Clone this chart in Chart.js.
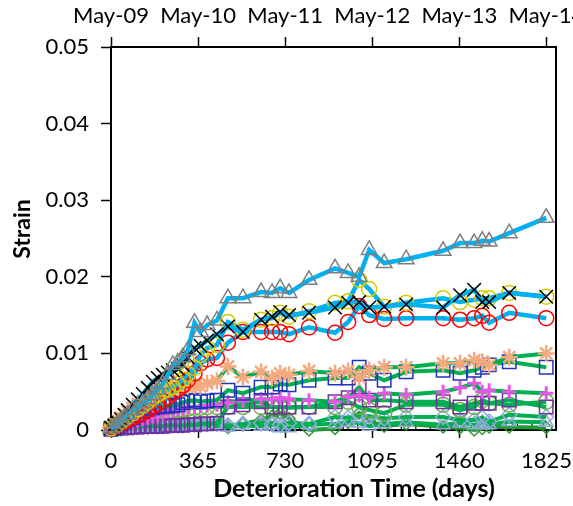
<!DOCTYPE html>
<html>
<head>
<meta charset="utf-8">
<script src="https://cdn.jsdelivr.net/npm/chart.js@4"></script>
<style>
  body { margin: 0; background: #fff; }
  #wrap { width: 573px; height: 506px; }
</style>
</head>
<body>
<div id="wrap"><canvas id="strainChart" width="573" height="506"></canvas></div>
<script>
// sampling times (days since May-09)
const days = [0, 14, 28, 42, 56, 70, 91, 112, 133, 154, 175, 196, 217, 238, 259, 280, 301, 322, 350, 375, 403, 444,
  490, 553, 629, 675, 709, 746, 830, 939, 994, 1040, 1082, 1145, 1237, 1392, 1463, 1522, 1556, 1585, 1669, 1824];

const yearTicks = [0, 365, 730, 1095, 1460, 1825];
const dateLabels = ['May-09', 'May-10', 'May-11', 'May-12', 'May-13', 'May-14'];
const strainTicks = [0, 0.01, 0.02, 0.03, 0.04, 0.05];

// strain series
const grayTri = [0.0002,0.0004,0.0008,0.0012,0.0016,0.0020,0.0026,0.0030,0.0035,0.0040,0.0046,0.0053,0.0060,0.0072,0.0085,0.0088,0.0095,0.0104,0.0140,0.0128,0.0137,0.0143,
  0.0172,0.0172,0.0180,0.0179,0.0185,0.0179,0.0196,0.0211,0.0205,0.0200,0.0235,0.0218,0.0223,0.0234,0.0244,0.0244,0.0247,0.0246,0.0257,0.0277];
const blackX = [0.0003,0.0006,0.0010,0.0014,0.0020,0.0026,0.0033,0.0040,0.0047,0.0055,0.0063,0.0068,0.0072,0.0075,0.0078,0.0080,0.0085,0.0095,0.0107,0.0110,0.0117,0.0125,
  0.0135,0.0128,0.0144,0.0148,0.0154,0.0150,0.0153,0.0160,0.0166,0.0167,0.0160,0.0161,0.0164,0.0160,0.0176,0.0183,0.0167,0.0167,0.0179,0.0174];
const yellowCirc = [0.0002,0.0005,0.0008,0.0011,0.0014,0.0018,0.0022,0.0027,0.0032,0.0037,0.0042,0.0046,0.0050,0.0053,0.0056,0.0060,0.0066,0.0073,0.0081,0.0098,0.0107,0.0111,
  0.0141,0.0131,0.0144,0.0146,0.0153,0.0148,0.0155,0.0166,0.0168,0.0196,0.0184,0.0161,0.0166,0.0172,0.0167,0.0170,0.0172,0.0172,0.0179,0.0174];
const redCirc = [0.0002,0.0003,0.0005,0.0008,0.0010,0.0013,0.0016,0.0019,0.0022,0.0026,0.0030,0.0034,0.0038,0.0043,0.0048,0.0053,0.0058,0.0065,0.0074,0.0087,0.0092,0.0094,
  0.0114,0.0128,0.0128,0.0128,0.0128,0.0125,0.0134,0.0127,0.0141,0.0162,0.0150,0.0145,0.0146,0.0146,0.0144,0.0146,0.0149,0.0140,0.0153,0.0146];
const orangeAst = [0.0004,0.0008,0.0012,0.0016,0.0020,0.0024,0.0029,0.0034,0.0038,0.0042,0.0046,0.0049,0.0051,0.0053,0.0054,0.0055,0.0056,0.0057,0.0058,0.0057,0.0061,0.0064,
  0.0083,0.0069,0.0076,0.0068,0.0074,0.0072,0.0077,0.0074,0.0077,0.0069,0.0078,0.0082,0.0082,0.0087,0.0087,0.0091,0.0089,0.0085,0.0095,0.0100];
const blueSq = [0.0001,0.0003,0.0005,0.0008,0.0010,0.0013,0.0016,0.0020,0.0024,0.0027,0.0029,0.0030,0.0031,0.0031,0.0032,0.0033,0.0036,0.0038,0.0039,0.0037,0.0038,0.0039,
  0.0052,0.0048,0.0056,0.0056,0.0060,0.0059,0.0065,0.0068,0.0068,0.0082,0.0074,0.0065,0.0076,0.0078,0.0074,0.0078,0.0082,0.0085,0.0089,0.0082];
const magentaPlus = [0.0001,0.0002,0.0003,0.0005,0.0006,0.0008,0.0010,0.0012,0.0014,0.0016,0.0018,0.0020,0.0022,0.0024,0.0025,0.0027,0.0028,0.0029,0.0030,0.0031,0.0032,0.0033,
  0.0036,0.0038,0.0040,0.0040,0.0042,0.0040,0.0039,0.0037,0.0043,0.0045,0.0042,0.0048,0.0046,0.0050,0.0055,0.0061,0.0050,0.0052,0.0050,0.0048];
const purpleSq = [0.0002,0.0002,0.0003,0.0003,0.0003,0.0004,0.0004,0.0004,0.0005,0.0005,0.0005,0.0005,0.0005,0.0006,0.0006,0.0006,0.0006,0.0007,0.0007,0.0008,0.0008,0.0009,
  0.0030,0.0033,0.0037,0.0030,0.0030,0.0030,0.0030,0.0037,0.0042,0.0056,0.0039,0.0039,0.0037,0.0037,0.0030,0.0035,0.0035,0.0035,0.0039,0.0030];
const oliveCirc = [0.0003,0.0005,0.0006,0.0007,0.0008,0.0009,0.0010,0.0012,0.0014,0.0016,0.0018,0.0020,0.0022,0.0023,0.0025,0.0026,0.0027,0.0028,0.0029,0.0029,0.0030,0.0030,
  0.0030,0.0030,0.0030,0.0030,0.0030,0.0029,0.0030,0.0030,0.0037,0.0030,0.0026,0.0022,0.0033,0.0033,0.0026,0.0030,0.0039,0.0035,0.0033,0.0037];
const paleDia = [0.0001,0.0001,0.0002,0.0002,0.0003,0.0003,0.0003,0.0004,0.0004,0.0004,0.0005,0.0005,0.0005,0.0006,0.0006,0.0006,0.0006,0.0007,0.0007,0.0007,0.0008,0.0008,
  0.0006,0.0008,0.0009,0.0008,0.0007,0.0009,0.0008,0.0017,0.0016,0.0019,0.0018,0.0015,0.0017,0.0017,0.0013,0.0013,0.0016,0.0011,0.0020,0.0017];
const paleTri = [0.0000,0.0001,0.0001,0.0001,0.0002,0.0002,0.0002,0.0002,0.0003,0.0003,0.0003,0.0003,0.0003,0.0004,0.0004,0.0004,0.0004,0.0004,0.0004,0.0005,0.0005,0.0005,
  0.0004,0.0006,0.0005,0.0007,0.0003,0.0003,0.0007,0.0008,0.0010,0.0009,0.0005,0.0008,0.0010,0.0007,0.0009,0.0007,0.0009,0.0007,0.0011,0.0010];
const greenDia = [0.0001,0.0002,0.0002,0.0003,0.0003,0.0004,0.0004,0.0005,0.0005,0.0006,0.0006,0.0007,0.0007,0.0008,0.0008,0.0009,0.0009,0.0010,0.0010,0.0011,0.0011,0.0011,
  0.0003,0.0008,0.0013,0.0018,0.0022,0.0015,0.0000,0.0002,0.0010,0.0022,0.0012,0.0005,0.0008,0.0004,0.0003,0.0000,0.0002,0.0004,0.0004,0.0003];

const xMax = 1865;
const CYAN = '#00B0F0';
const GREEN = '#00B050';

function series(label, vals, line, style, ptColor, radius, ptWidth) {
  return {
    label: label,
    data: days.map((d, i) => ({ x: d, y: vals[i] })),
    borderColor: line,
    borderWidth: line === CYAN ? 4.5 : 4,
    pointStyle: style,
    pointRadius: radius,
    pointHoverRadius: radius,
    pointBorderColor: ptColor,
    pointBackgroundColor: 'rgba(0,0,0,0)',
    pointBorderWidth: ptWidth || 1.5,
    tension: 0,
    clip: false
  };
}

const tickFont = { family: 'Lato', size: 22 };

const framePlugin = {
  id: 'frame',
  beforeDatasetsDraw(chart) {
    const { ctx, chartArea: a, scales } = chart;
    ctx.save();
    ctx.strokeStyle = '#000';
    ctx.lineWidth = 2;
    ctx.strokeRect(a.left, a.top, a.right - a.left, a.bottom - a.top);
    // minor ticks, every two months, pointing inward
    ctx.lineWidth = 1.2;
    const step = 365 / 6;
    for (let i = 1; i * step < xMax; i++) {
      if (i % 6 === 0) continue;
      const px = scales.x.getPixelForValue(i * step);
      ctx.beginPath();
      ctx.moveTo(px, a.bottom);
      ctx.lineTo(px, a.bottom - 6);
      ctx.stroke();
    }
    ctx.restore();
  },
  afterDraw(chart) {
    const { ctx } = chart;
    ctx.save();
    ctx.fillStyle = '#000';
    ctx.textAlign = 'center';
    ctx.textBaseline = 'middle';
    ctx.font = 'bold 25px Lato';
    ctx.fillText('Deterioration Time (days)', 354, 489);
    ctx.font = 'bold 23px Lato';
    ctx.translate(23, 229);
    ctx.rotate(-Math.PI / 2);
    ctx.fillText('Strain', 0, 0);
    ctx.restore();
  }
};

new Chart(document.getElementById('strainChart'), {
  type: 'line',
  data: {
    datasets: [
      series('A', grayTri, CYAN, 'triangle', '#7F7F7F', 9),
      series('B', blackX, CYAN, 'crossRot', '#000000', 9.5),
      series('C', yellowCirc, CYAN, 'circle', '#D4CC00', 7.5),
      series('D', redCirc, CYAN, 'circle', '#FF0000', 7.5),
      series('E', orangeAst, GREEN, 'star', '#F5A97F', 8.5, 2.5),
      series('F', blueSq, GREEN, 'rect', '#2233BB', 9.5),
      series('G', magentaPlus, GREEN, 'cross', '#E856E8', 7, 3),
      series('H', purpleSq, GREEN, 'rect', '#7030A0', 9.5),
      series('I', oliveCirc, GREEN, 'circle', '#70AD47', 7.5),
      series('J', paleDia, GREEN, 'rectRot', '#8EA9DB', 7.5),
      series('K', paleTri, GREEN, 'triangle', '#8EA9DB', 8),
      series('L', greenDia, '#1E9A38', 'rectRot', '#339933', 6)
    ]
  },
  options: {
    responsive: false,
    animation: false,
    devicePixelRatio: 1,
    layout: { padding: { top: 0, right: 17, bottom: 0, left: 0 } },
    plugins: { legend: { display: false }, tooltip: { enabled: false } },
    scales: {
      x: {
        type: 'linear',
        position: 'bottom',
        min: 0,
        max: xMax,
        afterBuildTicks: s => { s.ticks = yearTicks.map(v => ({ value: v })); },
        ticks: {
          autoSkip: false, maxRotation: 0, padding: 10, color: '#000', font: tickFont,
          callback: v => String(v)
        },
        grid: { drawOnChartArea: false, tickLength: 8, tickWidth: 1.5, tickColor: '#000' },
        border: { display: false },
        afterFit: s => { s.height = 76; s.paddingLeft = 0; s.paddingRight = 0; }
      },
      x2: {
        type: 'linear',
        position: 'top',
        min: 0,
        max: xMax,
        afterBuildTicks: s => { s.ticks = yearTicks.map(v => ({ value: v })); },
        ticks: {
          autoSkip: false, maxRotation: 0, padding: 8, color: '#000', font: tickFont,
          callback: (v, i) => dateLabels[i]
        },
        grid: { drawOnChartArea: false, tickLength: 10, tickWidth: 1.5, tickColor: '#000' },
        border: { display: false },
        afterFit: s => { s.height = 47; s.paddingLeft = 0; s.paddingRight = 0; }
      },
      y: {
        min: 0,
        max: 0.05,
        afterBuildTicks: s => { s.ticks = strainTicks.map(v => ({ value: v })); },
        ticks: {
          padding: 12, color: '#000', font: tickFont,
          callback: v => (v === 0 ? '0' : v.toFixed(2))
        },
        grid: { drawOnChartArea: false, tickLength: 10, tickWidth: 1.5, tickColor: '#000' },
        border: { display: false },
        afterFit: s => { s.width = 111; }
      }
    }
  },
  plugins: [framePlugin]
});
</script>
</body>
</html>
